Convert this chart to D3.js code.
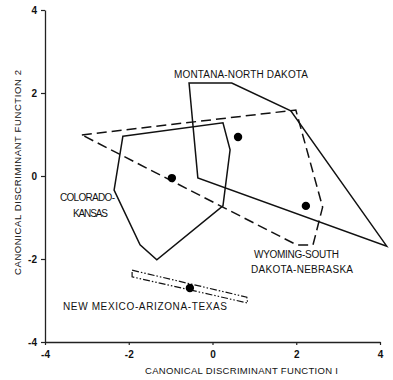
<!DOCTYPE html>
<html>
<head>
<meta charset="utf-8">
<script src="https://cdn.jsdelivr.net/npm/d3@7"></script>
<style>
  body { margin: 0; background: #fff; }
  svg text { font-family: "Liberation Sans", Arial, sans-serif; fill: #111; }
</style>
</head>
<body>
<div id="chart"></div>
<script>
// group outlines (canonical function 1, canonical function 2)
var montanaNorthDakota = [[-0.56, 2.24], [0.46, 2.24], [1.87, 1.57], [4.16, -1.69], [-0.35, -0.05]];
var coloradoKansas = [[-2.14, 0.96], [0.25, 1.28], [0.42, 0.63], [0.25, -0.72], [-1.33, -2.02], [-1.73, -1.66], [-2.35, -0.34]];
var wyomingSDNebraska = [[-3.12, 0.99], [1.99, 1.59], [2.63, -0.75], [2.40, -1.66], [2.01, -1.66]];
var newMexicoArizonaTexas = [[-1.92, -2.27], [0.82, -2.92], [0.84, -3.06], [-1.92, -2.43]];

// group centroids
var centroids = [[0.61, 0.94], [-0.97, -0.05], [2.23, -0.72], [-0.54, -2.70]];

var tickValues = [-4, -2, 0, 2, 4];
var xTitle = "CANONICAL DISCRIMINANT FUNCTION I";
var yTitle = "CANONICAL DISCRIMINANT FUNCTION 2";

var width = 393, height = 380;

var x = d3.scaleLinear().domain([-4, 4]).range([45, 380]);
var y = d3.scaleLinear().domain([-4, 4]).range([342, 10]);

var svg = d3.select("#chart").append("svg")
  .attr("width", width)
  .attr("height", height);

var fmt = function(d) { return d < 0 ? "-" + Math.abs(d) : d; };

// axes
var xAxis = d3.axisBottom(x).tickValues(tickValues).tickSize(3).tickSizeOuter(0).tickPadding(6).tickFormat(fmt);
var yAxis = d3.axisLeft(y).tickValues(tickValues).tickSize(4).tickSizeOuter(0).tickPadding(4).tickFormat(fmt);

var gx = svg.append("g").attr("transform", "translate(0,342)").call(xAxis);
var gy = svg.append("g").attr("transform", "translate(45,0)").call(yAxis);

[gx, gy].forEach(function(g) {
  g.select(".domain").attr("stroke", "#222").attr("stroke-width", 1.3);
  g.selectAll(".tick line").attr("stroke", "#222").attr("stroke-width", 1.2);
  g.selectAll(".tick text").attr("font-size", 10).attr("font-weight", "bold")
    .style("font-family", "Liberation Sans, Arial, sans-serif").attr("fill", "#111");
});
gy.selectAll(".tick text").attr("dy", "0.35em");

// outlines
var line = d3.line()
  .x(function(d) { return x(d[0]); })
  .y(function(d) { return y(d[1]); })
  .curve(d3.curveLinearClosed);

svg.append("path").attr("d", line(montanaNorthDakota))
  .attr("fill", "none").attr("stroke", "#111").attr("stroke-width", 1.5);
svg.append("path").attr("d", line(coloradoKansas))
  .attr("fill", "none").attr("stroke", "#111").attr("stroke-width", 1.5);
svg.append("path").attr("d", line(wyomingSDNebraska))
  .attr("fill", "none").attr("stroke", "#111").attr("stroke-width", 1.5)
  .attr("stroke-dasharray", "10,5");
svg.append("path").attr("d", line(newMexicoArizonaTexas))
  .attr("fill", "none").attr("stroke", "#111").attr("stroke-width", 1.2)
  .attr("stroke-dasharray", "7,2,1.5,2,1.5,2");

// centroids
svg.selectAll(".centroid").data(centroids).enter().append("circle")
  .attr("class", "centroid")
  .attr("cx", function(d) { return x(d[0]); })
  .attr("cy", function(d) { return y(d[1]); })
  .attr("r", 4.2)
  .attr("fill", "#000");

// group labels
var labels = [
  { t: "MONTANA-NORTH DAKOTA", x: 174, y: 78, w: 134 },
  { t: "COLORADO-", x: 60, y: 201, w: 55 },
  { t: "KANSAS", x: 73, y: 217, w: 35 },
  { t: "WYOMING-SOUTH", x: 254, y: 258, w: 85 },
  { t: "DAKOTA-NEBRASKA", x: 251, y: 273, w: 102 },
  { t: "NEW MEXICO-ARIZONA-TEXAS", x: 63, y: 310, w: 164 }
];
svg.selectAll(".lab").data(labels).enter().append("text")
  .attr("class", "lab")
  .attr("x", function(d) { return d.x; })
  .attr("y", function(d) { return d.y; })
  .attr("textLength", function(d) { return d.w; })
  .attr("lengthAdjust", "spacing")
  .attr("font-size", 10)
  .text(function(d) { return d.t; });

// axis titles
svg.append("text")
  .attr("x", 145).attr("y", 374)
  .attr("textLength", 193).attr("lengthAdjust", "spacing")
  .attr("font-size", 9.5)
  .text(xTitle);

svg.append("text")
  .attr("transform", "translate(21,275) rotate(-90)")
  .attr("x", 0).attr("y", 0)
  .attr("textLength", 205).attr("lengthAdjust", "spacing")
  .attr("font-size", 9.5)
  .text(yTitle);
</script>
</body>
</html>
